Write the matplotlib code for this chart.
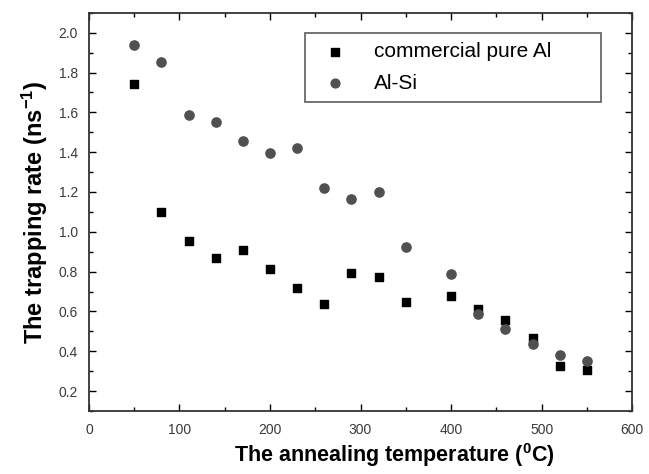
import matplotlib
matplotlib.use("Agg")
import matplotlib.pyplot as plt
from matplotlib.ticker import MultipleLocator

plt.rcParams['font.family'] = ['Liberation Sans', 'DejaVu Sans']
plt.rcParams['mathtext.default'] = 'regular'

# annealing temperatures (C)
temps = [50, 80, 110, 140, 170, 200, 230, 260, 290, 320, 350, 400, 430, 460, 490, 520, 550]

# trapping rates (ns^-1)
pure_al = [1.74, 1.10, 0.955, 0.87, 0.91, 0.815, 0.72, 0.637, 0.793, 0.775, 0.645,
           0.675, 0.612, 0.556, 0.468, 0.325, 0.308]
al_si = [1.94, 1.855, 1.585, 1.55, 1.455, 1.395, 1.42, 1.22, 1.165, 1.20, 0.925,
         0.786, 0.585, 0.511, 0.437, 0.38, 0.35]

fig = plt.figure(figsize=(6.49, 4.74), dpi=100)
ax = fig.add_axes([0.137, 0.133, 0.837, 0.840])

ax.scatter(temps, pure_al, marker='s', s=34, color='black', label='commercial pure Al', zorder=3)
ax.scatter(temps, al_si, marker='o', s=44, color='#505050', label='Al-Si', zorder=3)

ax.set_xlim(0, 600)
ax.set_ylim(0.1, 2.1)
ax.xaxis.set_major_locator(MultipleLocator(100))
ax.xaxis.set_minor_locator(MultipleLocator(50))
ax.yaxis.set_major_locator(MultipleLocator(0.2))
ax.yaxis.set_minor_locator(MultipleLocator(0.1))
ax.yaxis.set_major_formatter(plt.FormatStrFormatter('%.1f'))
ax.tick_params(which='both', direction='in', top=True, right=True,
               labelsize=10, labelcolor='#3a3a3a', width=1)
ax.tick_params(which='major', length=5)
ax.tick_params(which='minor', length=3)
ax.tick_params(axis='x', which='major', pad=9)
ax.tick_params(axis='y', which='major', pad=8)
for sp in ax.spines.values():
    sp.set_linewidth(1.3)
    sp.set_color('#333333')

ax.set_xlabel('The annealing temperature ($^0$C)', fontsize=15.5, fontweight='bold')
ax.xaxis.set_label_coords(0.563, -0.075)
ax.set_ylabel('The trapping rate (ns$^{-1}$)', fontsize=17, fontweight='bold', labelpad=6)

leg = ax.legend(loc='upper left', bbox_to_anchor=(0.398, 0.95, 0.545, 0.0), mode='expand',
                fontsize=15, frameon=True, fancybox=False, edgecolor='#333333',
                handletextpad=0.85, borderpad=0.45, labelspacing=0.6, handlelength=2.0,
                borderaxespad=0)
leg.get_frame().set_linewidth(1.2)
leg.legend_handles[0].set_sizes([26])
leg.legend_handles[1].set_sizes([40])

fig.savefig('out.png', dpi=100)
